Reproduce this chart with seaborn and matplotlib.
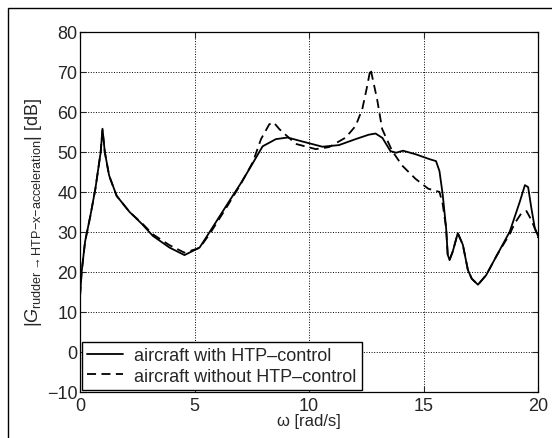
import matplotlib
matplotlib.use("Agg")
import matplotlib.pyplot as plt
import seaborn as sns
import pandas as pd
from matplotlib.patches import Rectangle

# DATA
omega_with = [0, 0.07, 0.22, 0.45, 0.67, 0.9, 0.98, 1.08, 1.27, 1.6, 2.16, 2.7,
              3.18, 3.9, 4.56, 5.22, 5.66, 6.38, 7.0, 7.4, 7.97, 8.55, 9.06,
              9.71, 10.58, 11.3, 12.03, 12.6, 12.9, 13.2, 13.55, 13.8, 14.1,
              14.66, 15.25, 15.54, 15.69, 15.83, 15.98, 16.05, 16.13, 16.27,
              16.49, 16.71, 16.93, 17.1, 17.37, 17.73, 18.2, 18.76, 19.2,
              19.42, 19.56, 19.7, 19.85, 20]
db_with = [14, 20, 27.6, 34, 40.8, 49.9, 55.8, 50, 44.1, 39, 35, 32,
           29, 26.1, 24.2, 26.1, 30, 36.5, 42, 45.8, 51.4, 53.2, 53.6,
           52.6, 51.3, 51.7, 53.2, 54.3, 54.6, 53.5, 50.2, 49.8, 50.3,
           49.4, 48.2, 47.7, 45.2, 39.4, 31, 24.3, 23, 25.1,
           29.7, 26.8, 20.5, 18.3, 16.8, 19.2, 24.2, 30.1, 37.6,
           41.7, 41.2, 36, 31, 28.9]

omega_without = [0, 0.07, 0.22, 0.45, 0.67, 0.9, 0.98, 1.08, 1.27, 1.6, 2.16,
                 2.7, 3.18, 3.9, 4.56, 5.22, 5.66, 6.38, 7.0, 7.54, 7.9, 8.26,
                 8.45, 8.7, 9.42, 10.29, 10.87, 11.6, 12.03, 12.32, 12.5,
                 12.68, 12.97, 13.19, 13.62, 14.06, 14.64, 15.2, 15.69, 15.83,
                 15.98, 16.05, 16.13, 16.27, 16.49, 16.71, 16.93, 17.1, 17.37,
                 17.73, 18.2, 18.76, 18.98, 19.27, 19.49, 19.7, 19.93, 20]
db_without = [14, 20, 27.6, 34, 40.8, 49.9, 55.6, 50, 44, 39, 35,
              32.2, 29.4, 26.7, 24.8, 26, 29.5, 36, 41.8, 47.4, 53.2, 56.9,
              57.4, 55.7, 52, 50.7, 51.2, 53.6, 56.5, 60.7, 65.5,
              70.8, 63.1, 55.7, 50.3, 46.6, 43.3, 40.8, 40, 37,
              31, 24.3, 23, 25.1, 29.7, 26.8, 20.5, 18.3, 16.8,
              19.2, 24.2, 29.5, 32.2, 34.7, 35.2, 33, 29.8, 28.5]

labels = ["aircraft with HTP\u2013control", "aircraft without HTP\u2013control"]
x_ticks = [0, 5, 10, 15, 20]
y_ticks = [-10, 0, 10, 20, 30, 40, 50, 60, 70, 80]

# STYLE
sns.set_style("ticks")
plt.rcParams["font.family"] = ["Liberation Sans", "DejaVu Sans"]
plt.rcParams["mathtext.fontset"] = "custom"
plt.rcParams["mathtext.rm"] = "Liberation Sans"
plt.rcParams["mathtext.it"] = "Liberation Sans:italic"
plt.rcParams["xtick.direction"] = "in"
plt.rcParams["ytick.direction"] = "in"

df_with = pd.DataFrame({"omega": omega_with, "db": db_with})
df_without = pd.DataFrame({"omega": omega_without, "db": db_without})

fig = plt.figure(figsize=(5.52, 4.39), dpi=100)
ax = fig.add_axes([0.145, 0.105, 0.83, 0.82])

sns.lineplot(data=df_with, x="omega", y="db", ax=ax, color="black",
             linewidth=1.3, estimator=None, label=labels[0])
sns.lineplot(data=df_without, x="omega", y="db", ax=ax, color="black",
             linewidth=1.3, linestyle=(0, (5, 3)), estimator=None,
             label=labels[1])

ax.set_xlim(0, 20)
ax.set_ylim(-10, 80)
ax.set_xticks(x_ticks)
ax.set_yticks(y_ticks)
ax.tick_params(labelsize=13, top=True, right=True, length=4, width=0.8)
ax.tick_params(axis="x", pad=4)
ax.tick_params(axis="y", pad=2)
ax.grid(True, color="black", linestyle=":", linewidth=0.7)
for s in ax.spines.values():
    s.set_linewidth(0.9)
    s.set_color("black")

ax.set_xlabel("\u03c9 [rad/s]", fontsize=12, labelpad=-1)
ax.set_ylabel(r"$|G_{\mathrm{rudder{\rightarrow}HTP{-}x{-}acceleration}}|$ [dB]",
              fontsize=13, labelpad=2)

leg = ax.legend(loc="lower left", fontsize=13, frameon=True, fancybox=False,
                edgecolor="black", framealpha=1, borderaxespad=0.1,
                handlelength=2.0, labelspacing=0.2, borderpad=0.3,
                handletextpad=0.6)
leg.get_frame().set_linewidth(1.0)

# page frame around the figure
fig.patches.append(Rectangle((8 / 552, -0.01), 1.0, 1 - 9 / 439 + 0.01,
                             transform=fig.transFigure, fill=False,
                             edgecolor="black", linewidth=1.0))

fig.savefig("out.png", dpi=100)
